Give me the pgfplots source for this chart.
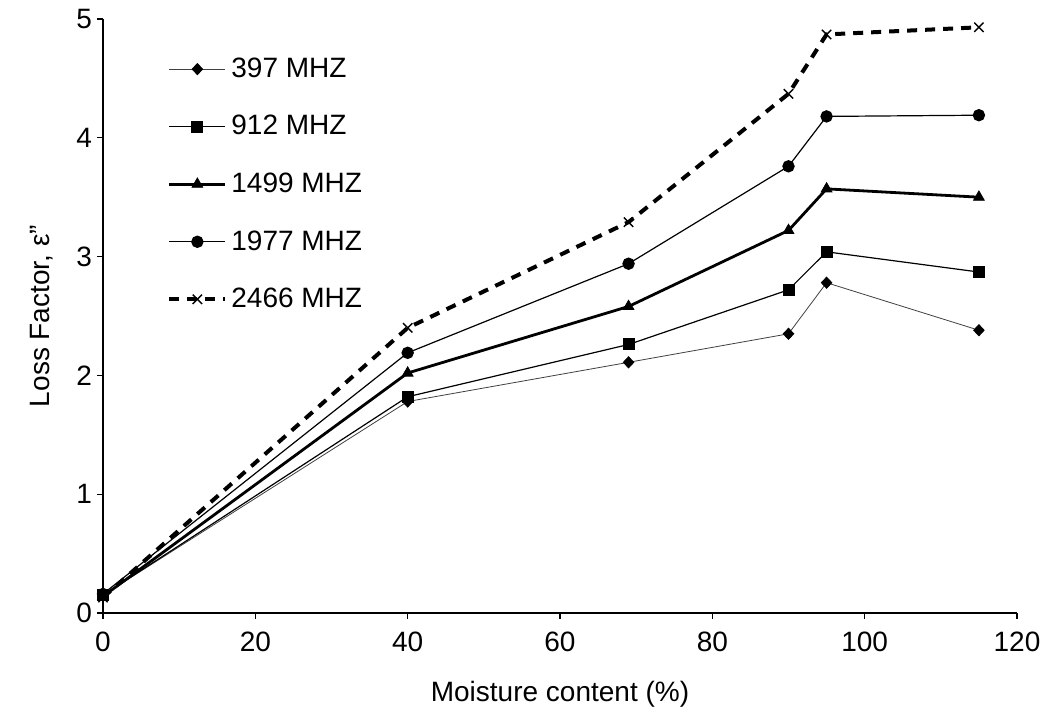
\documentclass[border=0pt]{standalone}
\usepackage{pgfplots}
\pgfplotsset{compat=1.18}
\usepackage{fontspec}
\setmainfont{Liberation Sans}
\begin{document}
\begin{tikzpicture}
\begin{axis}[
  name=ax,
  scale only axis,
  width=457pt, height=297pt,
  xmin=0, xmax=120, ymin=0, ymax=5,
  xtick={0,20,...,120}, ytick={0,1,...,5},
  axis x line*=bottom, axis y line*=left,
  axis line style={line width=0.6pt, -},
  tick style={line width=0.6pt, black},
  tick align=outside, major tick length=3pt,
  /pgf/number format/assume math mode=true,
  ticklabel style={font=\fontsize{14}{16}\selectfont},
  xticklabel style={yshift=-3pt},
  yticklabel style={xshift=1pt},
  xlabel={Moisture content (\%)},
  ylabel={Loss Factor, ε''},
  label style={font=\fontsize{14}{16}\selectfont},
  xlabel style={yshift=-8pt},
  ylabel style={yshift=5pt},
  legend style={draw=none, fill=none, at={(rel axis cs:0.07,0.942)}, anchor=north west,
    font=\fontsize{14}{16}\selectfont, row sep=13.5pt, inner sep=0pt},
  legend cell align=left,
  legend image code/.code={\draw[mark repeat=2, mark phase=2, #1] plot coordinates {(0pt,0pt) (14pt,0pt) (28pt,0pt)};},
]
\addplot[black!75, line width=0.4pt, mark=diamond*, mark size=2.8pt, mark options={solid, fill=black, draw=black, xscale=1.25}] coordinates {
 (0,0.15) (40,1.78) (69,2.11) (90,2.35) (95,2.78) (115,2.38)};
\addlegendentry{397 MHZ}
\addplot[black, line width=0.6pt, mark=square*, mark size=2.7pt, mark options={solid}] coordinates {
 (0,0.15) (40,1.82) (69,2.26) (90,2.72) (95,3.04) (115,2.87)};
\addlegendentry{912 MHZ}
\addplot[black, line width=1.4pt, mark=triangle*, mark size=3.1pt, mark options={solid, line width=0.4pt}] coordinates {
 (0,0.14) (40,2.02) (69,2.58) (90,3.22) (95,3.57) (115,3.50)};
\addlegendentry{1499 MHZ}
\addplot[black, line width=0.6pt, mark=*, mark size=2.8pt, mark options={solid}] coordinates {
 (0,0.16) (40,2.19) (69,2.94) (90,3.76) (95,4.18) (115,4.19)};
\addlegendentry{1977 MHZ}
\addplot[black, line width=2pt, dash pattern=on 5pt off 4pt, mark=x, mark size=3.3pt, mark options={solid, line width=0.7pt}] coordinates {
 (0,0.13) (40,2.40) (69,3.29) (90,4.37) (95,4.87) (115,4.93)};
\addlegendentry{2466 MHZ}
\end{axis}
\path[use as bounding box] ([xshift=-51.5pt,yshift=-53pt]ax.south west) rectangle ([xshift=16.5pt,yshift=9.5pt]ax.north east);
\end{tikzpicture}
\end{document}
